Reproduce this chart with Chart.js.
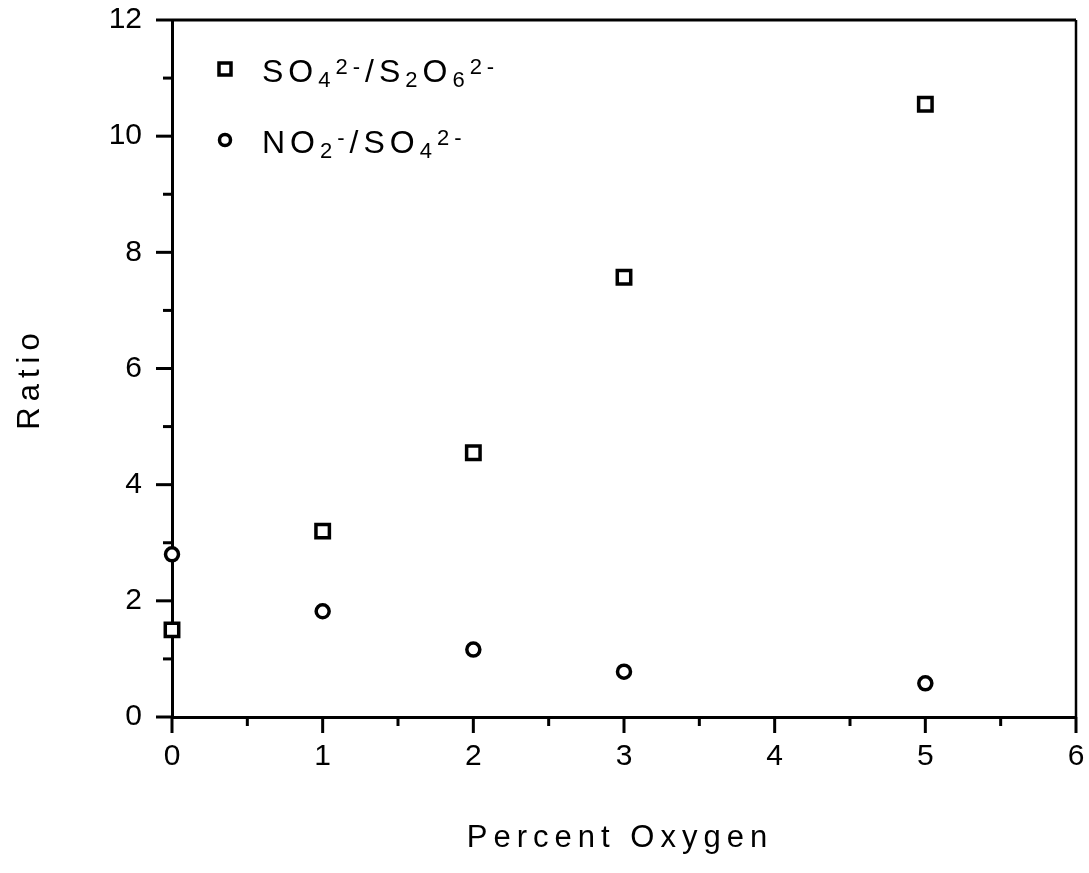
<!DOCTYPE html>
<html>
<head>
<meta charset="utf-8">
<title>Ratio vs Percent Oxygen</title>
<script src="https://cdn.jsdelivr.net/npm/chart.js@4/dist/chart.umd.min.js"></script>
<style>
  html, body { margin: 0; padding: 0; background: #fff; }
  #wrap { position: relative; width: 1089px; height: 873px; }
</style>
</head>
<body>
<div id="wrap"><canvas id="chart"></canvas></div>
<script>
// Chart data
const oxygenPercent = [0, 1, 2, 3, 5];
const sulfateDithionate = [1.5, 3.2, 4.55, 7.57, 10.55];  // SO4 2- / S2O6 2-
const nitriteSulfate = [2.8, 1.82, 1.16, 0.78, 0.58];     // NO2 - / SO4 2-

const xTicks = [0, 1, 2, 3, 4, 5, 6];
const yTicks = [0, 2, 4, 6, 8, 10, 12];
const xTitle = 'Percent Oxygen';
const yTitle = 'Ratio';

// legend labels split into pieces: n = normal, sub = subscript, sup = superscript
const legendLabels = [
  [['SO', 'n'], ['4', 'sub'], ['2-', 'sup'], ['/S', 'n'], ['2', 'sub'], ['O', 'n'], ['6', 'sub'], ['2-', 'sup']],
  [['NO', 'n'], ['2', 'sub'], ['-', 'sup'], ['/SO', 'n'], ['4', 'sub'], ['2-', 'sup']]
];

const FONT = '"Liberation Sans", Arial, Helvetica, sans-serif';

function toPoints(xs, ys) {
  return xs.map((x, i) => ({ x: x, y: ys[i] }));
}

// Draw the frame, tick marks (major + minor) behind the markers
const frameAndTicks = {
  id: 'frameAndTicks',
  beforeDatasetsDraw(chart) {
    const ctx = chart.ctx;
    const area = chart.chartArea;
    const xs = chart.scales.x;
    const ys = chart.scales.y;
    ctx.save();
    ctx.strokeStyle = '#000';
    ctx.lineCap = 'butt';

    // top and right border
    ctx.lineWidth = 3;
    ctx.beginPath();
    ctx.moveTo(area.left, area.top);
    ctx.lineTo(area.right, area.top);
    ctx.stroke();
    ctx.lineWidth = 2.5;
    ctx.beginPath();
    ctx.moveTo(area.right, area.top);
    ctx.lineTo(area.right, area.bottom);
    ctx.stroke();

    ctx.lineWidth = 3;
    // x ticks
    for (let v = xs.min; v <= xs.max + 1e-9; v += 0.5) {
      const px = xs.getPixelForValue(v);
      const len = Number.isInteger(v) ? 16 : 9;
      ctx.beginPath();
      ctx.moveTo(px, area.bottom);
      ctx.lineTo(px, area.bottom + len);
      ctx.stroke();
    }
    // y ticks
    for (let v = ys.min; v <= ys.max + 1e-9; v += 1) {
      const py = ys.getPixelForValue(v);
      const len = v % 2 === 0 ? 16 : 9;
      ctx.beginPath();
      ctx.moveTo(area.left, py);
      ctx.lineTo(area.left - len, py);
      ctx.stroke();
    }
    ctx.restore();
  }
};

// Axis titles (wide tracking like the original typeset)
const axisTitles = {
  id: 'axisTitles',
  afterDraw(chart) {
    const ctx = chart.ctx;
    const area = chart.chartArea;
    ctx.save();
    ctx.fillStyle = '#000';
    ctx.font = '31px ' + FONT;
    ctx.letterSpacing = '6px';
    ctx.textBaseline = 'alphabetic';
    ctx.textAlign = 'center';
    ctx.fillText(xTitle, (area.left + area.right) / 2 - 4, 847);

    ctx.translate(39, (area.top + area.bottom) / 2 + 10);
    ctx.rotate(-Math.PI / 2);
    ctx.fillText(yTitle, 0, 0);
    ctx.restore();
  }
};

// Legend with sub/superscripts inside the plot
function drawRichText(ctx, parts, x, y) {
  let cx = x;
  parts.forEach(p => {
    const text = p[0];
    const kind = p[1];
    let dy = 0;
    if (kind === 'n') {
      ctx.font = '32px ' + FONT;
    } else {
      ctx.font = '22px ' + FONT;
      dy = kind === 'sub' ? 5 : -8;
    }
    ctx.fillText(text, cx, y + dy);
    cx += ctx.measureText(text).width;
  });
}

const richLegend = {
  id: 'richLegend',
  afterDraw(chart) {
    const ctx = chart.ctx;
    const area = chart.chartArea;
    const markerX = area.left + 53;
    const textX = area.left + 90;
    const rows = [area.top + 49, area.top + 120];
    ctx.save();
    ctx.fillStyle = '#000';
    ctx.strokeStyle = '#000';
    ctx.textBaseline = 'alphabetic';
    ctx.textAlign = 'left';
    ctx.letterSpacing = '5px';

    chart.data.datasets.forEach((ds, i) => {
      const cy = rows[i];
      ctx.lineWidth = 3.5;
      ctx.fillStyle = '#fff';
      ctx.beginPath();
      if (ds.pointStyle === 'rect') {
        ctx.rect(markerX - 6, cy - 6, 12, 12);
      } else {
        ctx.arc(markerX, cy, 5.5, 0, Math.PI * 2);
      }
      ctx.fill();
      ctx.stroke();
      ctx.fillStyle = '#000';
      drawRichText(ctx, legendLabels[i], textX, cy + 13);
    });
    ctx.restore();
  }
};

function initChart() {
  const ctx = document.getElementById('chart').getContext('2d');

  new Chart(ctx, {
    type: 'scatter',
    data: {
      datasets: [
        {
          label: 'SO4 2-/S2O6 2-',
          data: toPoints(oxygenPercent, sulfateDithionate),
          pointStyle: 'rect',
          pointRadius: 9.5,
          pointHoverRadius: 9.5,
          pointBorderWidth: 3.5,
          pointHoverBorderWidth: 3.5,
          borderColor: '#000',
          backgroundColor: '#fff',
          clip: false
        },
        {
          label: 'NO2 -/SO4 2-',
          data: toPoints(oxygenPercent, nitriteSulfate),
          pointStyle: 'circle',
          pointRadius: 6.5,
          pointHoverRadius: 6.5,
          pointBorderWidth: 3.5,
          pointHoverBorderWidth: 3.5,
          borderColor: '#000',
          backgroundColor: '#fff',
          clip: false
        }
      ]
    },
    options: {
      responsive: true,
      maintainAspectRatio: false,
      animation: false,
      events: [],
      layout: {
        padding: { top: 20, right: 12, left: 0, bottom: 0 }
      },
      plugins: {
        legend: { display: false },
        tooltip: { enabled: false }
      },
      scales: {
        x: {
          type: 'linear',
          min: 0,
          max: 6,
          afterBuildTicks: scale => {
            scale.ticks = xTicks.map(v => ({ value: v }));
          },
          afterFit: scale => {
            scale.height = 156;
            scale.paddingLeft = 0;
            scale.paddingRight = 0;
          },
          grid: { display: false, drawTicks: false },
          border: { display: true, color: '#000', width: 3 },
          ticks: {
            color: '#000',
            padding: 22,
            font: { family: FONT, size: 30 },
            callback: v => String(v)
          }
        },
        y: {
          type: 'linear',
          min: 0,
          max: 12,
          afterBuildTicks: scale => {
            scale.ticks = yTicks.map(v => ({ value: v }));
          },
          afterFit: scale => {
            scale.width = 172;
            scale.paddingTop = 0;
            scale.paddingBottom = 0;
          },
          grid: { display: false, drawTicks: false },
          border: { display: true, color: '#000', width: 3 },
          ticks: {
            color: '#000',
            padding: 30,
            font: { family: FONT, size: 30 },
            callback: v => String(v)
          }
        }
      }
    },
    plugins: [frameAndTicks, axisTitles, richLegend]
  });
}

document.addEventListener('DOMContentLoaded', function() {
  initChart();
});
</script>
</body>
</html>
